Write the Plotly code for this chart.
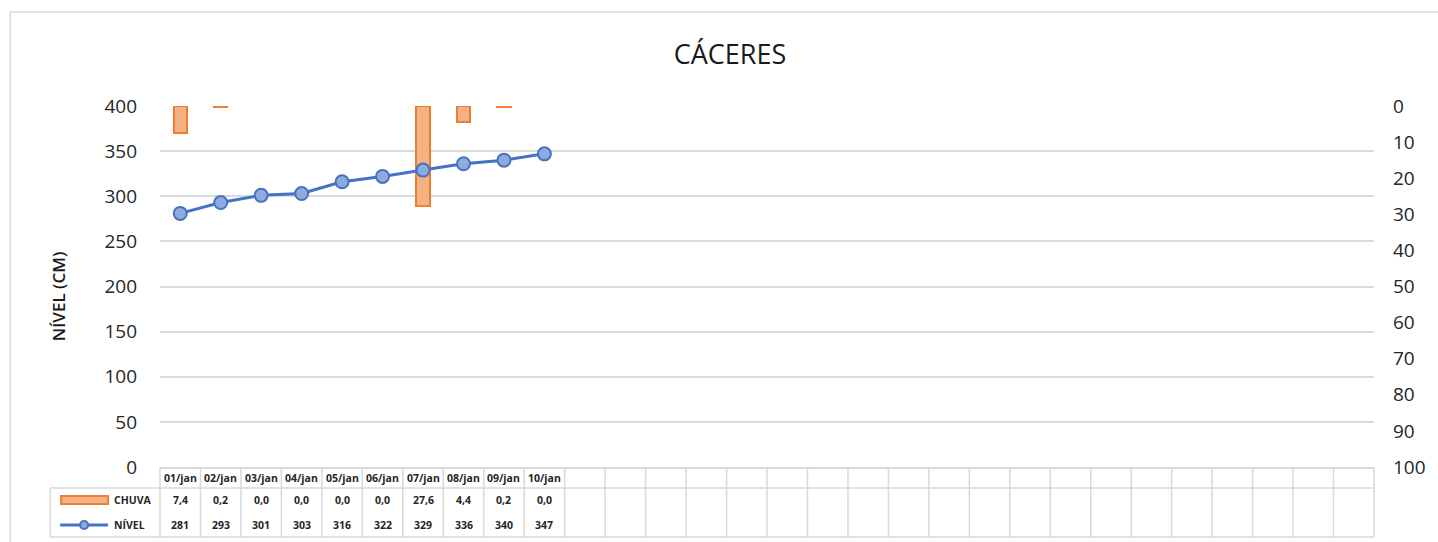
import plotly.graph_objects as go

# ---- data ----
dates = ["01/jan", "02/jan", "03/jan", "04/jan", "05/jan", "06/jan", "07/jan", "08/jan", "09/jan", "10/jan"]
chuva = [7.4, 0.2, 0.0, 0.0, 0.0, 0.0, 27.6, 4.4, 0.2, 0.0]
nivel = [281, 293, 301, 303, 316, 322, 329, 336, 340, 347]
n_cols = 30
left_ticks = [0, 50, 100, 150, 200, 250, 300, 350, 400]
right_ticks = [0, 10, 20, 30, 40, 50, 60, 70, 80, 90, 100]

W, H = 1438, 542
PL, PR, PT, PB = 160, 1376, 106, 467  # plot area in pixels


def pxx(p):
    return (p - PL) / (PR - PL)


def pxy(p):
    return (PB - p) / (PB - PT)


FONT = "Open Sans"
GRID = "#D9D9D9"
ORANGE = "#ED7D31"
ORANGE_FILL = "#F4B183"
BLUE = "#4472C4"
BLUE_FILL = "#8FAADC"

xs = list(range(len(dates)))

fig = go.Figure()
# bars on the (right, reversed) base axis so the line overlay draws on top
fig.add_trace(go.Bar(
    x=xs, y=chuva, yaxis="y", name="CHUVA", width=0.33,
    marker=dict(color=ORANGE_FILL,
                line=dict(color=ORANGE, width=[2 if v > 0 else 0 for v in chuva])),
))
fig.add_trace(go.Scatter(
    x=xs, y=nivel, yaxis="y2", name="NÍVEL", mode="lines+markers",
    line=dict(color=BLUE, width=3),
    marker=dict(size=13, color=BLUE_FILL, line=dict(color=BLUE, width=2)),
))

shapes = []
annotations = []

# outer chart border
shapes.append(dict(type="rect", xref="paper", yref="paper",
                   x0=pxx(10), x1=pxx(1450), y0=pxy(12), y1=pxy(560),
                   line=dict(color="#D9D9D9", width=1.5), fillcolor="rgba(0,0,0,0)", layer="below"))

# data table lines
ROW0, ROW1, ROW3 = 467, 488, 537
for i in range(n_cols + 1):
    xp = i / n_cols
    shapes.append(dict(type="line", xref="paper", yref="paper",
                       x0=xp, x1=xp, y0=pxy(ROW0), y1=pxy(ROW3),
                       line=dict(color=GRID, width=1.5)))
for yy in (ROW1, ROW3):
    shapes.append(dict(type="line", xref="paper", yref="paper",
                       x0=pxx(50), x1=1, y0=pxy(yy), y1=pxy(yy),
                       line=dict(color=GRID, width=1.5)))
shapes.append(dict(type="line", xref="paper", yref="paper",
                   x0=pxx(50), x1=pxx(50), y0=pxy(ROW1), y1=pxy(ROW3),
                   line=dict(color=GRID, width=1.5)))

# legend keys in table
shapes.append(dict(type="rect", xref="paper", yref="paper",
                   x0=pxx(61), x1=pxx(108), y0=pxy(496), y1=pxy(504),
                   fillcolor=ORANGE_FILL, line=dict(color=ORANGE, width=2)))
shapes.append(dict(type="line", xref="paper", yref="paper",
                   x0=pxx(60), x1=pxx(108), y0=pxy(525), y1=pxy(525),
                   line=dict(color=BLUE, width=3)))
shapes.append(dict(type="circle", xref="paper", yref="paper",
                   x0=pxx(80), x1=pxx(88), y0=pxy(521), y1=pxy(529),
                   fillcolor=BLUE_FILL, line=dict(color=BLUE, width=2)))

tfont = dict(family=FONT, size=10.5, color="#262626")
annotations.append(dict(xref="paper", yref="paper", x=pxx(112), y=pxy(500),
                        text="<b>CHUVA</b>", showarrow=False, xanchor="left", yanchor="middle", font=tfont))
annotations.append(dict(xref="paper", yref="paper", x=pxx(112), y=pxy(525),
                        text="<b>NÍVEL</b>", showarrow=False, xanchor="left", yanchor="middle", font=tfont))

for i, d in enumerate(dates):
    annotations.append(dict(xref="x", yref="paper", x=i, y=pxy(478), text="<b>" + d + "</b>",
                            showarrow=False, yanchor="middle", font=tfont))
    annotations.append(dict(xref="x", yref="paper", x=i, y=pxy(500),
                            text="<b>" + f"{chuva[i]:.1f}".replace(".", ",") + "</b>",
                            showarrow=False, yanchor="middle", font=tfont))
    annotations.append(dict(xref="x", yref="paper", x=i, y=pxy(525), text="<b>" + str(nivel[i]) + "</b>",
                            showarrow=False, yanchor="middle", font=tfont))

# y-axis title
annotations.append(dict(xref="paper", yref="paper", x=pxx(58), y=pxy(297), text="NÍVEL (CM)",
                        textangle=-90, showarrow=False, xanchor="center", yanchor="middle",
                        font=dict(family=FONT, size=17, color="#1a1a1a", weight=600)))

fig.update_layout(
    width=W, height=H,
    margin=dict(l=PL, r=W - PR, t=PT, b=H - PB, pad=0),
    paper_bgcolor="white", plot_bgcolor="white",
    showlegend=False,
    title=dict(text="CÁCERES", x=730 / W, xanchor="center",
               y=1 - 55 / H, yanchor="middle", yref="container",
               font=dict(family=FONT, size=27, color="#1a1a1a")),
    xaxis=dict(range=[-0.5, n_cols - 0.5], showticklabels=False, showgrid=False, zeroline=False,
               showline=True, linecolor=GRID, linewidth=1.5, ticks=""),
    yaxis=dict(range=[100, 0], tickvals=right_ticks, side="right",
               showgrid=False, zeroline=False, ticks="", ticklabelstandoff=18,
               tickfont=dict(family=FONT, size=19, color="#262626")),
    yaxis2=dict(range=[0, 400], tickvals=left_ticks, overlaying="y", side="left",
                showgrid=True, gridcolor=GRID, gridwidth=1.5,
                zeroline=False, ticks="", ticklabelstandoff=22,
                tickfont=dict(family=FONT, size=19, color="#262626")),
    shapes=shapes, annotations=annotations,
    bargap=0,
)

fig.write_html("out.html", config={"displayModeBar": False},
               post_script="document.body.style.margin='0px';")
